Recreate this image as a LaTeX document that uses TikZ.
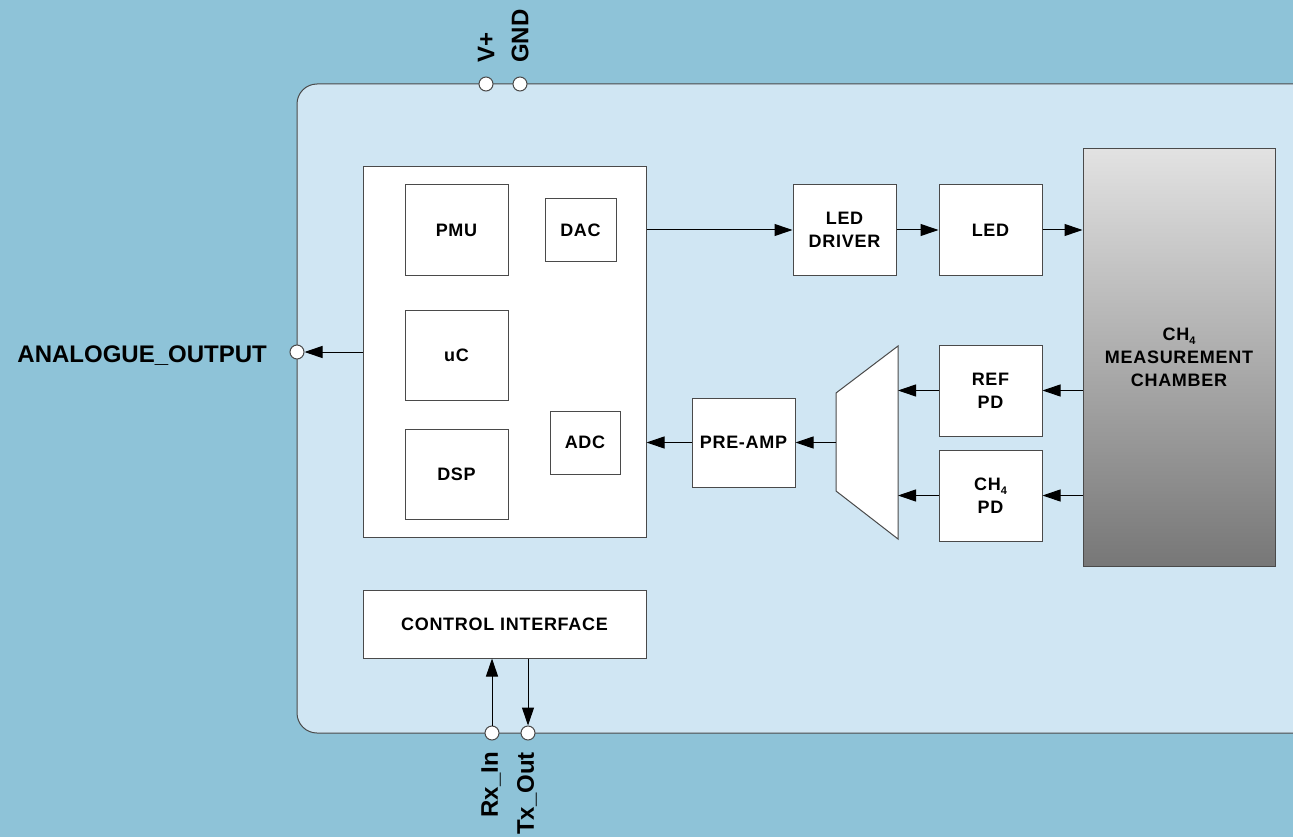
\documentclass[tikz,border=0pt]{standalone}
\usepackage{fontspec}
\setmainfont{Liberation Sans}[LetterSpace=4]
\newfontfamily\pinfont{Liberation Sans}
\usetikzlibrary{arrows.meta}
\definecolor{outerbg}{HTML}{8EC3D8}
\definecolor{panelbg}{HTML}{D0E6F3}
\definecolor{edgecol}{HTML}{4A4A4A}
\definecolor{chtop}{HTML}{E2E2E2}
\definecolor{chbot}{HTML}{777777}
\newcommand{\subfour}{\raisebox{-0.45ex}{\fontsize{11}{11}\selectfont 4}}
\begin{document}
\begin{tikzpicture}[x=1pt,y=-1pt,
  lbl/.style={font=\fontsize{18}{23}\selectfont\bfseries},
  blk/.style={draw=edgecol, line width=1pt, fill=white, align=center, inner sep=0pt, lbl},
  arr/.style={draw=black, line width=1pt, -{Triangle[length=18pt,width=12pt]}},
  pin/.style={circle, draw=edgecol, fill=white, line width=1pt, minimum size=14pt, inner sep=0pt},
  pinlbl/.style={font=\pinfont\fontsize{24}{24}\selectfont\bfseries, inner sep=0pt}]
\useasboundingbox (0,0) rectangle (1293,837);
\clip (0,0) rectangle (1293,837);
\fill[outerbg] (0,0) rectangle (1293,837);
% panel
\draw[edgecol, line width=1pt, fill=panelbg, rounded corners=20pt] (297,84) rectangle (1330,733);

% MCU block
\node[blk, minimum width=283, minimum height=370] (mcu) at (504.5,352) {};
\node[blk, minimum width=103, minimum height=90] (pmu) at (456.5,230) {PMU};
\node[blk, minimum width=71, minimum height=62] (dac) at (580.5,230) {DAC};
\node[blk, minimum width=103, minimum height=90] (uc) at (456.5,355) {uC};
\node[blk, minimum width=103, minimum height=90] (dsp) at (456.5,474) {DSP};
\node[blk, minimum width=70, minimum height=63] (adc) at (585,442.5) {ADC};

% control interface
\node[blk, minimum width=283, minimum height=68] (ctrl) at (504.5,624) {CONTROL INTERFACE};

% right side blocks
\node[blk, minimum width=103, minimum height=90] (leddrv) at (844.5,230) {LED\\DRIVER};
\node[blk, minimum width=103, minimum height=90] (led) at (990.5,230) {LED};
\node[blk, minimum width=103, minimum height=91] (refpd) at (990.5,390.5) {REF\\PD};
\node[blk, minimum width=103, minimum height=91] (chpd) at (990.5,495.5) {CH\subfour\\PD};
\node[blk, minimum width=103, minimum height=89] (preamp) at (743.5,442.5) {PRE-AMP};
\node[blk, draw=edgecol, top color=chtop, bottom color=chbot, minimum width=192, minimum height=417] (chamber) at (1179,357.5) {CH\subfour\\MEASUREMENT\\CHAMBER};

% mux trapezoid
\coordinate (muxL) at (836,442.5);
\coordinate (muxR) at (898,442.5);
\draw[edgecol, line width=1pt, fill=white] (836,393) -- (898,346) -- (898,539) -- (836,491) -- cycle;

% pins
\node[pin] (vp) at (486,84) {};
\node[pin] (gnd) at (520,84) {};
\node[pin] (aout) at (297,352) {};
\node[pin] (rx) at (492,733) {};
\node[pin] (tx) at (528,733) {};

% pin labels
\node[pinlbl, rotate=90, anchor=west] (vplbl) at (486,63) {V+};
\node[pinlbl, rotate=90, anchor=west] (gndlbl) at (520,63) {GND};
\node[pinlbl, rotate=90, anchor=east] (rxlbl) at (491,752) {Rx\_In};
\node[pinlbl, rotate=90, anchor=east] (txlbl) at (527,752) {Tx\_Out};
\node[pinlbl, anchor=east] (aoutlbl) at (267,356) {ANALOGUE\_OUTPUT};

% connectors
\draw[arr] (mcu.east |- leddrv.west) -- (leddrv.west);
\draw[arr] (leddrv.east) -- (led.west);
\draw[arr] (led.east) -- (chamber.west |- led.east);
\draw[arr] (chamber.west |- refpd.east) -- (refpd.east);
\draw[arr] (chamber.west |- chpd.east) -- (chpd.east);
\draw[arr] (refpd.west) -- (refpd.west -| muxR);
\draw[arr] (chpd.west) -- (chpd.west -| muxR);
\draw[arr] (muxL) -- (preamp.east);
\draw[arr] (preamp.west) -- (preamp.west -| mcu.east);
\draw[arr] (mcu.west |- aout) -- (aout);
\draw[arr] (rx) -- (rx |- ctrl.south);
\draw[arr] (ctrl.south -| tx) -- (tx);
\end{tikzpicture}
\end{document}
